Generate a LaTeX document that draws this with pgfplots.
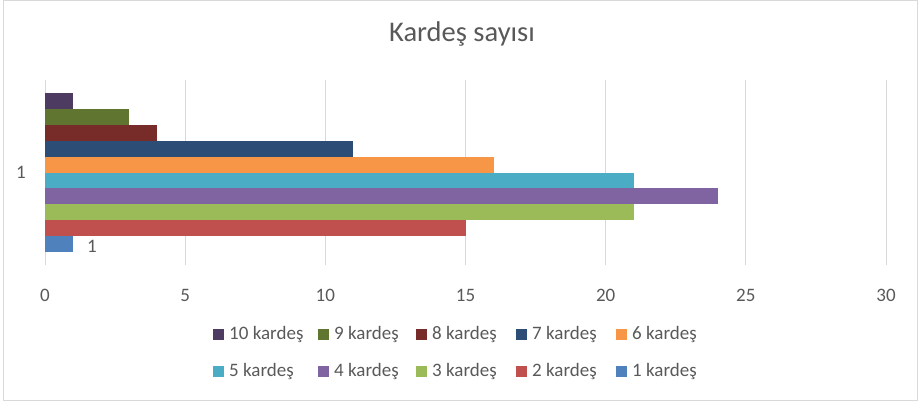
\documentclass[border=0pt]{standalone}
\usepackage{fontspec}
\setmainfont{Carlito}
\usepackage{pgfplots}
\pgfplotsset{compat=1.18}
\definecolor{c1}{HTML}{4F81BD}
\definecolor{c2}{HTML}{C0504D}
\definecolor{c3}{HTML}{9BBB59}
\definecolor{c4}{HTML}{8064A2}
\definecolor{c5}{HTML}{4BACC6}
\definecolor{c6}{HTML}{F79646}
\definecolor{c7}{HTML}{2C4D75}
\definecolor{c8}{HTML}{772C2A}
\definecolor{c9}{HTML}{5F7530}
\definecolor{c10}{HTML}{4D3B62}
\definecolor{txt}{HTML}{595959}
\definecolor{gridc}{HTML}{D9D9D9}
\newcommand{\lgent}[2]{\makebox[#1bp][l]{\hspace{5bp}#2}}
\begin{document}
\begin{tikzpicture}[x=1bp,y=1bp]
\useasboundingbox (0,0) rectangle (918,401);
\draw[gridc, line width=1bp] (3.5,0.5) rectangle (917.5,400.5);
\node[anchor=base, text=txt, font=\fontsize{28.5bp}{34bp}\selectfont, inner sep=0pt] at (462,359.3) {Kardeş sayısı};
\begin{axis}[
  at={(45bp,136bp)}, anchor=south west,
  scale only axis, width=841bp, height=185bp,
  xmin=0, xmax=30, ymin=-0.32, ymax=11.32,
  xtick={0,5,10,15,20,25,30}, ytick={5.5}, yticklabels={1},
  axis line style={draw=none}, major tick length=0pt,
  xmajorgrids, grid style={gridc, line width=1bp},
  /pgf/number format/assume math mode=true,
  ticklabel style={font=\fontsize{19bp}{22bp}\selectfont, text=txt, inner sep=0pt},
  xticklabel style={yshift=-24bp},
  yticklabel style={xshift=-19bp},
  mybar/.style={xbar, bar width=1, bar shift=0pt, fill=#1, draw=none},
  legend columns=5, legend cell align=left,
  legend style={at={(axis description cs:0.1998,-0.3324)}, anchor=north west,
    draw=none, fill=none, inner sep=0pt, row sep=20bp,
    font=\fontsize{19bp}{22bp}\selectfont, text=txt,
    nodes={inner sep=0pt, text height=13bp, text depth=4bp}},
  legend image code/.code={\fill[#1, draw=none] (0bp,-4.5bp) rectangle (11bp,6.5bp);},
]
\addplot[mybar=c10] coordinates {(1,10)};
\addplot[mybar=c9] coordinates {(3,9)};
\addplot[mybar=c8] coordinates {(4,8)};
\addplot[mybar=c7] coordinates {(11,7)};
\addplot[mybar=c6] coordinates {(16,6)};
\addplot[mybar=c5] coordinates {(21,5)};
\addplot[mybar=c4] coordinates {(24,4)};
\addplot[mybar=c3] coordinates {(21,3)};
\addplot[mybar=c2] coordinates {(15,2)};
\addplot[mybar=c1, nodes near coords,
  every node near coord/.append style={anchor=west, inner sep=0pt, xshift=14bp, yshift=-2.5bp,
    font=\fontsize{19bp}{22bp}\selectfont, text=txt}] coordinates {(1,1)};
\legend{\lgent{94}{10 kardeş},\lgent{87}{9 kardeş},\lgent{89}{8 kardeş},\lgent{89}{7 kardeş},\lgent{89}{6 kardeş},
  \lgent{94}{5 kardeş},\lgent{87}{4 kardeş},\lgent{89}{3 kardeş},\lgent{89}{2 kardeş},\lgent{89}{1 kardeş}}
\end{axis}
\end{tikzpicture}
\end{document}
